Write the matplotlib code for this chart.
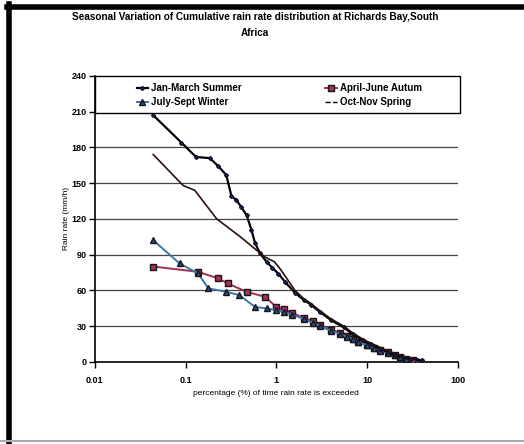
import numpy as np
import matplotlib
matplotlib.use("Agg")
import matplotlib.pyplot as plt
from matplotlib.lines import Line2D
from matplotlib.patches import Rectangle

plt.rcParams['font.family'] = ['Liberation Sans', 'DejaVu Sans']
plt.rcParams['font.weight'] = 'bold'

# percentage of time (%) vs rain rate (mm/h) for each season
summer_x = [0.044, 0.09, 0.13, 0.185, 0.23, 0.28, 0.32, 0.36, 0.41, 0.47, 0.53, 0.58, 0.66,
            0.78, 0.9, 1.05, 1.25, 1.6, 2.0, 2.4, 3.0, 4.0, 5.5, 7.0, 9.0, 11, 14, 17, 20, 25, 30, 40]
summer_y = [207, 184, 172, 171, 164, 157, 139, 136, 130, 123, 111, 100, 91,
            84, 79, 74, 67, 58, 52, 48, 42, 35, 29, 23, 18, 15, 11, 8, 6, 4, 2.5, 1.5]

autumn_x = [0.044, 0.137, 0.23, 0.29, 0.47, 0.75, 1.0, 1.2, 1.5, 2.0, 2.5, 3.0, 4.0, 5.0,
            6.0, 7.0, 8.0, 10, 12, 14, 17, 20, 23, 27, 32]
autumn_y = [80, 75.6, 70, 65.8, 58.8, 54.6, 46, 44, 41, 37, 34, 31, 27, 24.5,
            22, 19.5, 17, 14.5, 12, 10, 8, 6, 4, 2.5, 1.5]

winter_x = [0.044, 0.086, 0.137, 0.178, 0.28, 0.39, 0.58, 0.78, 1.0, 1.2, 1.5, 2.0, 2.5, 3.0,
            4.0, 5.0, 6.0, 7.0, 8.0, 10, 12, 14, 17, 20, 23, 27, 35]
winter_y = [102, 82.6, 74.2, 61.7, 58.8, 56, 46.2, 44.8, 43.4, 42, 39.5, 36, 33, 30,
            26, 23.5, 21, 19, 16.5, 14, 11.5, 9.5, 7.5, 5.5, 4, 2.5, 1]

spring_x = [0.044, 0.094, 0.126, 0.22, 0.4, 0.6, 0.75, 0.95, 1.1, 1.3, 1.6, 2.0, 2.4, 3.0,
            4.0, 5.5, 7.0, 9.0, 11, 14, 17, 20, 25, 30, 35]
spring_y = [174, 148, 144, 120, 105, 94, 88, 84, 78, 70, 60, 53, 49, 43,
            36, 30, 24, 19, 15.5, 12, 9, 7, 4.5, 3, 2]

xticks = [0.01, 0.1, 1, 10, 100]
xtick_labels = ['0.01', '0.1', '1', '10', '100']
yticks = [0, 30, 60, 90, 120, 150, 180, 210, 240]

fig = plt.figure(figsize=(5.24, 4.44), dpi=100)
ax = fig.add_axes([0.181, 0.185, 0.693, 0.644])

ax.set_xscale('log')
ax.set_xlim(0.01, 100)
ax.set_ylim(0, 240)

# horizontal grid lines
for yv in yticks[1:-1]:
    ax.axhline(yv, color='#444444', lw=0.9, zorder=1)

l1, = ax.plot(summer_x, summer_y, color='black', lw=1.6, marker='D', ms=2,
              mfc='#1c2a6a', mec='#101030', zorder=4)
l2, = ax.plot(autumn_x, autumn_y, color='#a03050', lw=1.4, marker='s', ms=4,
              mfc='#a83060', mec='#151515', mew=1.0, zorder=3)
l3, = ax.plot(winter_x, winter_y, color='#3a78a8', lw=1.4, marker='^', ms=4,
              mfc='#2a4a90', mec='#151515', mew=1.0, zorder=3)
l4, = ax.plot(spring_x, spring_y, color='#2a1010', lw=1.2, ls='-', zorder=4)

ax.set_xticks(xticks)
ax.set_xticklabels(xtick_labels)
ax.minorticks_off()
ax.set_yticks(yticks)
ax.tick_params(direction='out', length=4, width=1, labelsize=6.5)
ax.tick_params(axis='y', pad=2)
ax.tick_params(axis='x', pad=6)
for s in ['top', 'right']:
    ax.spines[s].set_visible(False)
for s in ['left', 'bottom']:
    ax.spines[s].set_linewidth(1.2)

ax.set_xlabel('percentage (%) of time rain rate is exceeded', fontsize=6, labelpad=4)
ax.set_ylabel('Rain rate (mm/h)', fontsize=6, labelpad=1)

# legend box across the top of the plot
ax.add_patch(Rectangle((0, 0.87), 1.005, 0.13, transform=ax.transAxes, facecolor='white',
                       edgecolor='black', lw=1.0, zorder=5, clip_on=False))
spring_handle = Line2D([], [], color='black', lw=1.0, ls='--')
leg_kw = dict(loc='upper left', fontsize=7, frameon=False, borderaxespad=0, borderpad=0,
              handlelength=1.2, handletextpad=0.3, labelspacing=0.45)
leg1 = ax.legend([l1, l3], ['Jan-March Summer', 'July-Sept Winter'],
                 bbox_to_anchor=(0.115, 0.975), **leg_kw)
leg1.set_zorder(6)
ax.add_artist(leg1)
leg2 = ax.legend([l2, spring_handle], ['April-June Autum', 'Oct-Nov Spring'],
                 bbox_to_anchor=(0.635, 0.975), **leg_kw)
leg2.set_zorder(6)

fig.text(0.487, 0.962, 'Seasonal Variation of Cumulative rain rate distribution at Richards Bay,South',
         ha='center', va='center', fontsize=7.2, fontweight='bold')
fig.text(0.487, 0.925, 'Africa', ha='center', va='center', fontsize=7.2, fontweight='bold')

# outer frame: heavy top and left edges, light bottom edge
fig.add_artist(Line2D([0.013, 1.0], [0.985, 0.985], transform=fig.transFigure,
                      color='black', lw=4))
fig.add_artist(Line2D([0.017, 0.017], [0.0, 0.99], transform=fig.transFigure,
                      color='black', lw=4))
fig.add_artist(Line2D([0.0, 1.0], [0.007, 0.007], transform=fig.transFigure,
                      color='#aaaaaa', lw=1.5))

fig.savefig('out.png', dpi=100)
